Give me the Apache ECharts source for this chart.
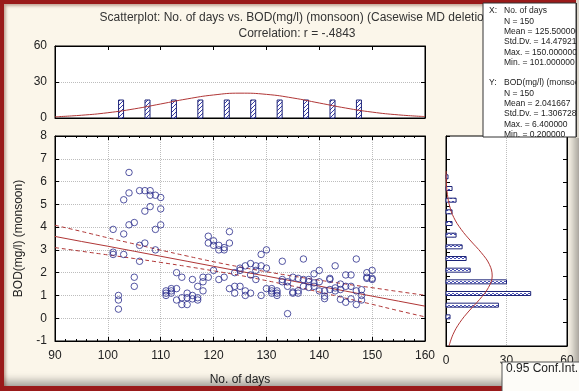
<!DOCTYPE html>
<html>
<head>
<meta charset="utf-8">
<script src="https://cdn.jsdelivr.net/npm/echarts@6.0.0/dist/echarts.min.js"></script>
<style>
  html, body { margin: 0; padding: 0; background: #fbf6ea; }
  #frame {
    position: absolute; left: 0; top: 0; width: 579px; height: 391px;
    box-sizing: border-box; background: #fbf6ea;
    border-left: 4px solid #9a1a1a; border-top: 4px solid #9a1a1a; border-bottom: 5px solid #9a1a1a;
    box-shadow: inset 2px 2px 3px rgba(90, 20, 0, 0.35), inset -9px -9px 9px -4px rgba(0, 0, 0, 0.35);
  }
  #chart { position: absolute; left: 0; top: 0; width: 579px; height: 391px; }
</style>
</head>
<body>
<div id="frame"></div>
<div id="chart"></div>
<script>
// Sampling days (three BOD readings per day)
const days = [101,102,103,104,105,106,107,108,109,110,111,112,113,114,115,116,117,118,119,120,
              121,122,123,124,125,126,127,128,129,130,131,132,133,134,135,136,137,138,139,140,
              141,142,143,144,145,146,147,148,149,150];
const bodReadA = [3.9,1.0,5.2,6.4,4.2,5.6,5.6,5.6,5.4,5.3,1.2,1.3,2.0,1.8,1.1,1.7,1.4,1.8,3.6,3.4,
                  3.2,3.1,3.8,2.0,2.2,2.3,2.4,2.3,2.8,3.0,1.3,1.2,2.5,1.6,1.8,1.75,2.6,1.7,1.95,2.1,
                  1.2,1.75,2.3,1.5,1.9,1.9,2.6,1.25,2.0,2.1];
const bodReadB = [2.9,0.8,3.7,5.5,1.8,3.2,4.7,5.4,3.9,4.8,1.1,1.2,1.3,0.9,0.9,1.0,0.9,1.6,3.3,3.2,
                  3.0,3.0,3.3,1.4,2.1,1.2,1.9,2.1,2.3,2.2,1.2,1.1,1.7,1.4,1.15,1.2,1.7,1.6,1.55,1.6,
                  0.97,1.7,1.33,1.26,1.4,1.4,1.2,1.0,1.8,1.75];
const bodReadC = [2.8,0.4,2.8,4.1,1.4,2.5,3.3,4.9,3.0,4.1,1.0,1.1,0.8,0.6,0.6,0.85,0.8,1.2,1.8,2.1,
                  1.7,1.8,1.3,1.1,1.4,1.0,1.1,1.7,1.0,1.3,1.1,1.0,1.6,0.2,1.1,1.1,1.4,1.35,1.4,1.2,
                  0.86,1.26,1.2,0.83,0.7,0.85,0.6,0.8,1.75,1.7];

// Histogram of days (5-day bins)
const dayBinCentres = [102.5,107.5,112.5,117.5,122.5,127.5,132.5,137.5,142.5,147.5];
const dayBinCounts  = [15,15,15,15,15,15,15,15,15,15];
// Expected normal counts for the days histogram
const dayCurveX = [90,95,100,105,110,115,120,125,130,135,140,145,150,155,160];
const dayCurveY = [1.0,2.3,4.4,7.6,11.7,15.9,19.2,20.7,19.7,16.7,12.5,8.3,4.9,2.6,1.2];

// Histogram of BOD (0.5 mg/l bins)
const bodBinCentres = [0.25,0.75,1.25,1.75,2.25,2.75,3.25,3.75,4.25,4.75,5.25,5.75,6.25];
const bodBinCounts  = [2,26,42,30,12,10,8,5,3,3,5,3,1];
// Expected normal counts for the BOD histogram
const bodCurveAt    = [-1,-0.5,0,0.5,1,1.5,2,2.5,3,3.5,4,4.5,5,5.5,6,6.5];
const bodCurveCount = [1.5,3.5,6.8,11.4,16.7,21.0,22.9,21.5,17.5,12.3,7.5,3.9,1.8,0.7,0.2,0.1];

// Linear fit and 0.95 confidence band
const fitX     = [90,95,100,105,110,115,120,125,130,135,140,145,150,155,160];
const fitY     = [3.59,3.37,3.16,2.94,2.72,2.50,2.28,2.06,1.85,1.63,1.41,1.19,0.97,0.75,0.53];
const fitUpper = [4.08,3.81,3.53,3.26,2.99,2.73,2.48,2.25,2.04,1.85,1.67,1.50,1.34,1.17,1.01];
const fitLower = [3.10,2.94,2.78,2.62,2.45,2.27,2.08,1.88,1.65,1.41,1.15,0.88,0.61,0.33,0.06];

const titleLine1 = 'Scatterplot: No. of days vs. BOD(mg/l) (monsoon) (Casewise MD deletion)';
const titleLine2 = 'Correlation: r = -.4843';
const statLines = [
  ['X:', 'No. of days'], ['', 'N = 150'], ['', 'Mean = 125.500000'], ['', 'Std.Dv. = 14.479217'],
  ['', 'Max. = 150.000000'], ['', 'Min. = 101.000000'], ['', ''],
  ['Y:', 'BOD(mg/l) (monsoon)'], ['', 'N = 150'], ['', 'Mean = 2.041667'], ['', 'Std.Dv. = 1.306728'],
  ['', 'Max. = 6.400000'], ['', 'Min. = 0.200000']
];

const FONT = '"Liberation Sans", Arial, sans-serif';
const NAVY = '#2b2d8c';
const RED = '#b03636';

function makePattern(draw) {
  const c = document.createElement('canvas');
  c.width = 4; c.height = 4;
  const g = c.getContext('2d');
  g.fillStyle = '#ffffff'; g.fillRect(0, 0, 4, 4);
  draw(g);
  return { image: c, repeat: 'repeat' };
}
const hatchFill = makePattern(g => {
  g.strokeStyle = '#3a3ea6'; g.lineWidth = 1;
  g.beginPath(); g.moveTo(-1, 5); g.lineTo(5, -1); g.stroke();
});
const dashFill = makePattern(g => {
  g.fillStyle = '#4a52b6';
  g.fillRect(0, 1, 2, 1); g.fillRect(2, 2, 2, 1);
});

const scatterData = [];
days.forEach((d, i) => {
  scatterData.push([d, bodReadA[i]], [d, bodReadB[i]], [d, bodReadC[i]]);
});

const gridLine = { show: true, lineStyle: { color: '#bdbdbd', type: 'dotted', width: 1 } };
const axLine = { show: true, onZero: false, lineStyle: { color: '#000', width: 1 } };
const tickIn = { show: true, inside: true, length: 4, lineStyle: { color: '#000' } };
const labelStyle = { color: '#222', fontFamily: FONT, fontSize: 12 };

const chart = echarts.init(document.getElementById('chart'), null, { renderer: 'canvas' });

const option = {
  animation: false,
  backgroundColor: 'transparent',
  grid: [
    { left: 55, top: 46, width: 370, height: 72, show: true, backgroundColor: '#fff', borderColor: '#000', borderWidth: 1 },
    { left: 55, top: 136, width: 370, height: 210, show: true, backgroundColor: '#fff', borderColor: '#000', borderWidth: 1 },
    { left: 446, top: 136, width: 121, height: 210, show: true, backgroundColor: '#fff', borderColor: '#000', borderWidth: 1 }
  ],
  xAxis: [
    { gridIndex: 0, type: 'value', min: 90, max: 160, interval: 10, position: 'bottom',
      axisLine: axLine, axisTick: { show: false }, axisLabel: { show: false }, splitLine: { show: false } },
    { gridIndex: 0, type: 'value', min: 90, max: 160, interval: 10, position: 'top',
      axisLine: axLine, axisTick: tickIn, axisLabel: { show: false }, splitLine: { show: false } },
    { gridIndex: 1, type: 'value', min: 90, max: 160, interval: 10, position: 'bottom',
      name: 'No. of days', nameLocation: 'middle', nameGap: 33,
      nameTextStyle: labelStyle,
      axisLine: axLine, axisTick: tickIn,
      minorTick: { show: true, splitNumber: 5, length: 2, lineStyle: { color: '#000' } },
      axisLabel: Object.assign({ margin: 9 }, labelStyle), splitLine: gridLine },
    { gridIndex: 1, type: 'value', min: 90, max: 160, interval: 10, position: 'top',
      axisLine: axLine, axisTick: tickIn,
      minorTick: { show: true, splitNumber: 5, length: 2, lineStyle: { color: '#000' } },
      axisLabel: { show: false }, splitLine: { show: false } },
    { gridIndex: 2, type: 'value', min: 0, max: 60, interval: 30, position: 'bottom',
      axisLine: axLine, axisTick: { show: false },
      axisLabel: Object.assign({ margin: 9 }, labelStyle), splitLine: gridLine }
  ],
  yAxis: [
    { gridIndex: 0, type: 'value', min: 0, max: 60, interval: 30, position: 'left',
      axisLine: axLine, axisTick: tickIn,
      axisLabel: Object.assign({ margin: 8 }, labelStyle), splitLine: gridLine },
    { gridIndex: 0, type: 'value', min: 0, max: 60, interval: 30, position: 'right',
      axisLine: axLine, axisTick: tickIn, axisLabel: { show: false }, splitLine: { show: false } },
    { gridIndex: 1, type: 'value', min: -1, max: 8, interval: 1, position: 'left',
      name: 'BOD(mg/l) (monsoon)', nameLocation: 'middle', nameGap: 30, nameRotate: 90,
      nameTextStyle: labelStyle,
      axisLine: axLine, axisTick: tickIn,
      axisLabel: Object.assign({ margin: 8 }, labelStyle), splitLine: gridLine },
    { gridIndex: 1, type: 'value', min: -1, max: 8, interval: 1, position: 'right',
      axisLine: axLine, axisTick: tickIn, axisLabel: { show: false }, splitLine: { show: false } },
    { gridIndex: 2, type: 'value', min: -1, max: 8, interval: 1, position: 'left',
      axisLine: axLine, axisTick: tickIn, axisLabel: { show: false }, splitLine: { show: false } },
    { gridIndex: 2, type: 'value', min: -1, max: 8, interval: 1, position: 'right',
      axisLine: axLine, axisTick: tickIn, axisLabel: { show: false }, splitLine: { show: false } }
  ],
  series: [
    // days histogram bars
    { type: 'custom', xAxisIndex: 0, yAxisIndex: 0,
      data: dayBinCentres.map((c, i) => [c, dayBinCounts[i]]),
      renderItem: (params, api) => {
        const base = api.coord([api.value(0), 0]);
        const top = api.coord([api.value(0), api.value(1)]);
        return { type: 'rect',
          shape: { x: base[0] - 2.5, y: top[1], width: 5, height: base[1] - top[1] },
          style: { fill: hatchFill, stroke: '#1d2478', lineWidth: 1 } };
      } },
    { type: 'line', xAxisIndex: 0, yAxisIndex: 0, smooth: true, symbol: 'none',
      data: dayCurveX.map((x, i) => [x, dayCurveY[i]]),
      lineStyle: { color: RED, width: 1 } },
    // confidence band and fit
    { type: 'line', xAxisIndex: 2, yAxisIndex: 2, smooth: true, symbol: 'none', z: 3,
      data: fitX.map((x, i) => [x, fitUpper[i]]),
      lineStyle: { color: RED, width: 1, type: [4, 3] } },
    { type: 'line', xAxisIndex: 2, yAxisIndex: 2, smooth: true, symbol: 'none', z: 3,
      data: fitX.map((x, i) => [x, fitLower[i]]),
      lineStyle: { color: RED, width: 1, type: [4, 3] } },
    { type: 'line', xAxisIndex: 2, yAxisIndex: 2, symbol: 'none', z: 3,
      data: fitX.map((x, i) => [x, fitY[i]]),
      lineStyle: { color: RED, width: 1 } },
    // observations
    { type: 'scatter', xAxisIndex: 2, yAxisIndex: 2, symbol: 'circle', symbolSize: 6.5, z: 4,
      data: scatterData,
      itemStyle: { color: 'rgba(0,0,0,0)', borderColor: NAVY, borderWidth: 1 } },
    // BOD histogram bars
    { type: 'custom', xAxisIndex: 4, yAxisIndex: 4,
      data: bodBinCentres.map((c, i) => [bodBinCounts[i], c]),
      renderItem: (params, api) => {
        const base = api.coord([0, api.value(1)]);
        const end = api.coord([api.value(0), api.value(1)]);
        return { type: 'rect',
          shape: { x: base[0], y: base[1] - 2, width: end[0] - base[0], height: 4 },
          style: { fill: dashFill, stroke: '#1d2478', lineWidth: 1 } };
      } },
    { type: 'line', xAxisIndex: 4, yAxisIndex: 4, smooth: 0.4, symbol: 'none',
      data: bodCurveAt.map((y, i) => [bodCurveCount[i], y]),
      lineStyle: { color: RED, width: 1 } }
  ],
  graphic: [
    { type: 'text', x: 297, y: 18, z: 10,
      style: { text: titleLine1, font: '12px ' + FONT, fill: '#333', align: 'center', verticalAlign: 'middle' } },
    { type: 'text', x: 297, y: 34, z: 10,
      style: { text: titleLine2, font: '12px ' + FONT, fill: '#333', align: 'center', verticalAlign: 'middle' } },
    { type: 'rect', x: 483, y: 3, z: 20,
      shape: { width: 93, height: 134 },
      style: { fill: '#ffffff', stroke: '#333', lineWidth: 1 } },
    ...statLines.map((ln, i) => ({
      type: 'text', x: 489, y: 11 + i * 10.3, z: 21,
      style: { text: ln[0], font: '8.5px ' + FONT, fill: '#222', verticalAlign: 'middle' } })),
    ...statLines.map((ln, i) => ({
      type: 'text', x: 504, y: 11 + i * 10.3, z: 21,
      style: { text: ln[1], font: '8.5px ' + FONT, fill: '#222', verticalAlign: 'middle' } })),
    // the stats box is cut off at its right border
    { type: 'rect', x: 576, y: 0, z: 22,
      shape: { width: 4, height: 138 },
      style: { fill: '#d9d4c9' } },
    { type: 'line', z: 23,
      shape: { x1: 576.5, y1: 3, x2: 576.5, y2: 137 },
      style: { stroke: '#333', lineWidth: 1 } },
    { type: 'rect', x: 502, y: 362, z: 20,
      shape: { width: 90, height: 40 },
      style: { fill: '#fdfcf8', stroke: '#555', lineWidth: 1 } },
    { type: 'text', x: 506, y: 369, z: 21,
      style: { text: '0.95 Conf.Int.', font: '12px ' + FONT, fill: '#222', verticalAlign: 'middle' } }
  ]
};

chart.setOption(option);
</script>
</body>
</html>
